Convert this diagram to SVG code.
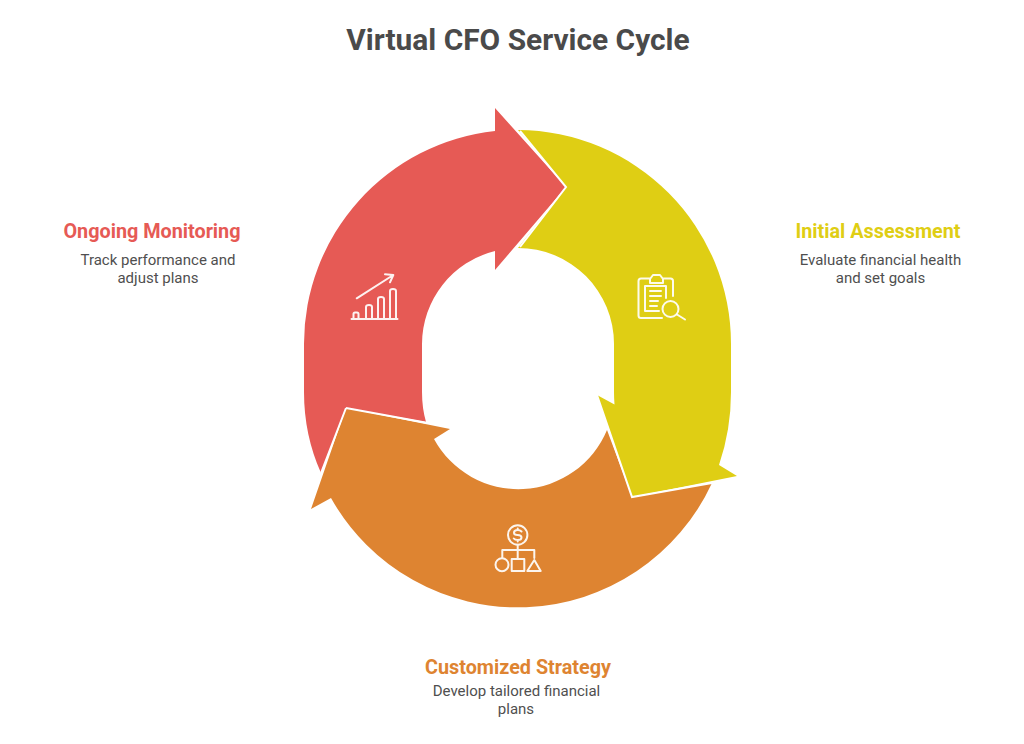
<svg xmlns="http://www.w3.org/2000/svg" width="1024" height="744" viewBox="0 0 1024 744">
<style>
text{font-family:Roboto,"Liberation Sans",sans-serif;text-anchor:middle}
.t{font-size:29.900px;font-weight:700;fill:#4a4a4a}
.h{font-size:19.800px;font-weight:700}
.d{font-size:15px;fill:#4f4f4f}
.ic{fill:none;stroke:#fff;stroke-width:2;stroke-linecap:round;stroke-linejoin:round;opacity:.92}
</style>
<rect width="1024" height="744" fill="#fff"/>
<text class="t" x="518" y="50">Virtual CFO Service Cycle</text>
<g id="initial-assessment">
<path fill="#DFCE14" d="M518,130 A214,214 0 0 1 731,344 V392 Q731,430 719,465 L737,476 L632,497 L597,395 L614.500,404.500 Q614,398 614,392 V344 A96,96 0 0 0 518,248 L566,187 Z"/>
<path class="ic" d="M662,318 H641 Q638.500,318 638.500,315.500 V281 Q638.500,278.500 641,278.500 H650 M663,278.500 H670.500 Q673,278.500 673,281 V296 M650,283 V279 L653,275 H660 L663,279 V283 Z M645,286 H666 V298 M645,286 V311 H659 M650,291 H661 M650,296 H661 M650,301 H658 M650,306 H657"/>
<circle class="ic" cx="670.500" cy="309" r="8"/>
<path class="ic" d="M677,314.500 L685,319.500"/>
<text class="h" x="878" y="237.500" fill="#DFCE14">Initial Assessment</text>
<text class="d" x="880.500" y="265">Evaluate financial health</text>
<text class="d" x="880.500" y="283">and set goals</text>
</g>
<g id="customized-strategy">
<path fill="#DE8431" d="M434,439 A96,96 0 0 0 607,430 L632,497 L712,483 A214,214 0 0 1 331,498 L311,509 L346,408 L450,429 Z"/>
<g class="ic">
<circle cx="517.700" cy="535" r="9.700"/>
<path d="M521.500,531.500 Q520,530 517.700,530 Q514,530 514,532.700 Q514,535 517.700,535 Q521.500,535 521.500,537.500 Q521.500,540 517.700,540 Q515,540 513.800,538.500 M517.700,528.500 V530 M517.700,540 V541.500 M517.700,544.700 V559 M502.300,558 V550 H534.300 V558"/>
<circle cx="502" cy="564.700" r="6.500"/>
<rect x="511.700" y="559" width="12.600" height="12"/>
<path d="M534.300,560 L540.700,571 H527.300 Z"/>
</g>
<text class="h" x="518" y="673.500" fill="#DE8431">Customized Strategy</text>
<text class="d" x="516.500" y="696">Develop tailored financial</text>
<text class="d" x="516" y="714">plans</text>
</g>
<g id="ongoing-monitoring">
<path fill="#E65A55" d="M495,131 V108 L566,187 L495,270 V251 A96,96 0 0 0 422,344 V392 Q422,408 426,422 L346,408 L321,473 Q304,435 304,392 V344 A214,214 0 0 1 495,131 Z"/>
<path class="ic" d="M351.500,319 H397.500 M353.500,319 V314 Q353.500,312.500 355,312.500 H357 Q358.500,312.500 358.500,314 V319 M366,319 V307 Q366,305 369,305 Q372,305 372,307 V319 M378,319 V299 Q378,297 381,297 Q384,297 384,299 V319 M390,319 V291 Q390,289 393,289 Q396,289 396,291 V319 M356.700,298.300 L393.300,275 M385,274.300 L393.300,275 L390,282.300"/>
<text class="h" x="152" y="237.500" fill="#E65A55">Ongoing Monitoring</text>
<text class="d" x="158" y="265">Track performance and</text>
<text class="d" x="158" y="283">adjust plans</text>
</g>
<g id="connectors">
<path fill="none" stroke="#fff" stroke-width="2" d="M520,131 L566,187 L520,247 M597,395 L632,497 L712,483 M346,408 L321,473 M346,408 L428,423"/>
</g>
</svg>
